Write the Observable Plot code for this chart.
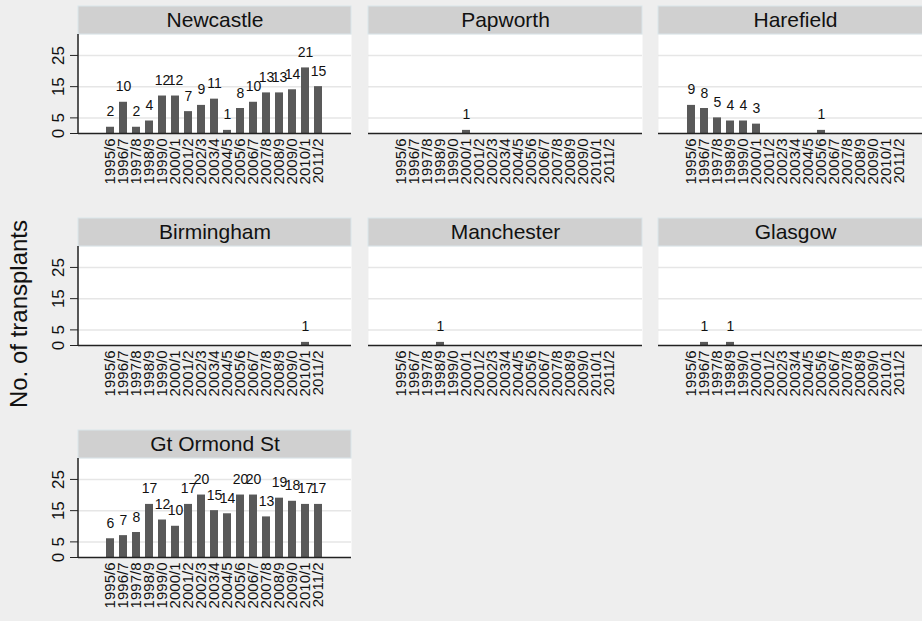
<!DOCTYPE html>
<html>
<head>
<meta charset="utf-8">
<script src="https://cdn.jsdelivr.net/npm/d3@7"></script>
<script src="https://cdn.jsdelivr.net/npm/@observablehq/plot@0.6"></script>
<style>
  html, body { margin: 0; padding: 0; background: #eeeeee; }
  #chart { position: relative; width: 922px; height: 621px; overflow: hidden; background: #eeeeee;
           font-family: "Liberation Sans", Arial, Helvetica, sans-serif; }
  .panel { position: absolute; }
  #ytitle { position: absolute; width: 320px; height: 30px; line-height: 30px; left: -141px; top: 299px;
            text-align: center; font-size: 24px; color: #111; transform: rotate(-90deg); white-space: nowrap; }
</style>
</head>
<body>
<div id="chart"><div id="ytitle">No. of transplants</div></div>
<script>
// ---- data ----
const years = ["1995/6","1996/7","1997/8","1998/9","1999/0","2000/1","2001/2","2002/3","2003/4",
               "2004/5","2005/6","2006/7","2007/8","2008/9","2009/0","2010/1","2011/2"];
const centres = ["Newcastle","Papworth","Harefield","Birmingham","Manchester","Glasgow","Gt Ormond St"];
const newcastle  = [2,10,2,4,12,12,7,9,11,1,8,10,13,13,14,21,15];
const papworth   = [0,0,0,0,0,1,0,0,0,0,0,0,0,0,0,0,0];
const harefield  = [9,8,5,4,4,3,0,0,0,0,1,0,0,0,0,0,0];
const birmingham = [0,0,0,0,0,0,0,0,0,0,0,0,0,0,0,1,0];
const manchester = [0,0,0,1,0,0,0,0,0,0,0,0,0,0,0,0,0];
const glasgow    = [0,1,0,1,0,0,0,0,0,0,0,0,0,0,0,0,0];
const gtOrmondSt = [6,7,8,17,12,10,17,20,15,14,20,20,13,19,18,17,17];
const yTicks = [0,5,15,25];
const yMax = 31.7;

const series = [newcastle, papworth, harefield, birmingham, manchester, glasgow, gtOrmondSt];

// ---- layout ----
const colLeft = [78, 368, 658];
const colWidth = [273, 274, 274];
const rowTop = [34, 246, 458];
const ph = 99;
const hdrH = 28;
const font = "Liberation Sans, Arial, Helvetica, sans-serif";

const chart = document.getElementById("chart");

centres.forEach((name, i) => {
  const col = i % 3, row = Math.floor(i / 3);
  const pw = colWidth[col];
  const mL = col === 0 ? 70 : 10, mR = 10, mT = 32, mB = 64;
  const rows = years.map((year, j) => ({year, n: series[i][j]})).filter(d => d.n > 0);

  const header = () => {
    const g = d3.create("svg:g");
    g.append("rect")
      .attr("x", mL).attr("y", mT - hdrH)
      .attr("width", pw).attr("height", hdrH)
      .attr("fill", "#d0d0d0").attr("stroke", "#dae5ea").attr("stroke-width", 1);
    return g.node();
  };
  const leftLine = () => d3.create("svg:line")
      .attr("x1", mL).attr("x2", mL).attr("y1", mT).attr("y2", mT + ph)
      .attr("stroke", "#222").attr("stroke-width", 1.5).node();

  const svg = Plot.plot({
    width: mL + pw + mR,
    height: mT + ph + mB,
    marginLeft: mL, marginRight: mR, marginTop: mT, marginBottom: mB,
    style: {background: "transparent", fontFamily: font, fontSize: "14px", color: "#111", overflow: "visible"},
    x: {type: "band", domain: years, paddingInner: 0.35, paddingOuter: 1.55, axis: null},
    y: {domain: [0, yMax], axis: null},
    marks: [
      Plot.frame({fill: "white", stroke: "none"}),
      header,
      Plot.text([name], {text: d => d, frameAnchor: "top", dy: -hdrH / 2, lineAnchor: "middle",
                         fontSize: 21, fill: "#111"}),
      Plot.ruleY(yTicks.filter(t => t > 0), {stroke: "#e6e6e6", strokeWidth: 1.5}),
      Plot.barY(rows, {x: "year", y: "n", fill: "#595959"}),
      Plot.text(rows, {x: "year", y: "n", text: d => String(d.n), dy: -11, lineAnchor: "bottom",
                       fontSize: 14, fill: "#111"}),
      Plot.ruleY([0], {stroke: "#222", strokeWidth: 1.5}),
      Plot.axisX({tickRotate: -90, tickSize: 0, tickPadding: 5, fontSize: 15, label: null, fill: "#111"}),
      col === 0 ? Plot.axisY(yTicks, {anchor: "left", tickSize: 8, tickPadding: 7, tickRotate: -90,
                                      fontSize: 17, label: null, stroke: "#222", fill: "#111"}) : null,
      col === 0 ? leftLine : null
    ]
  });
  svg.classList.add("panel");
  svg.style.left = (colLeft[col] - mL) + "px";
  svg.style.top = (rowTop[row] - mT) + "px";
  chart.appendChild(svg);
});
</script>
</body>
</html>
